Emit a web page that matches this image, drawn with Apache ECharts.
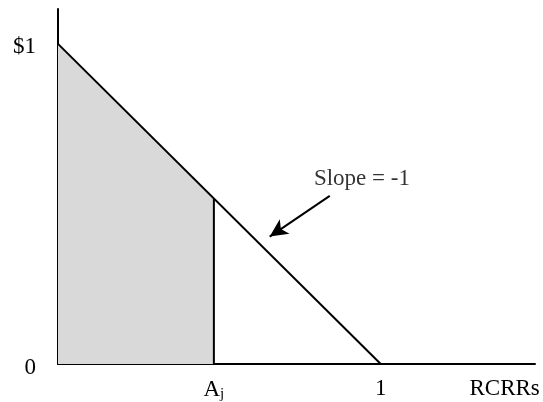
<!DOCTYPE html>
<html>
<head>
<meta charset="utf-8">
<script src="https://cdn.jsdelivr.net/npm/echarts@6.0.0/dist/echarts.min.js"></script>
<style>
    html, body { margin: 0; padding: 0; background: #fff; }
    #main { width: 543px; height: 402px; }
</style>
</head>
<body>
<div id="main"></div>
<script>
// budget line: $1 at 0, zero at 1
var linePoints = [[0, 1], [1, 0]];
var ajValue = 0.483;
var xTickValues = [0.483, 1, 1.384];
var xTickLabels = ['{a|A}{sub|j}', '1', 'RCRRs'];
var yTickValues = [0, 1];
var yTickLabels = ['0', '$1'];
// annotation
var slopeText = 'Slope = -1';
var slopeTextAt = [0.793, 0.578];
var arrowFrom = [0.842, 0.525];
var arrowTo = [0.656, 0.398];

var chart = (function () {
    var font = 'Liberation Serif';
    function init() {
        var myChart = echarts.init(document.getElementById('main'));
        var ajTop = 1 - ajValue;

        var option = {
            animation: false,
            grid: {
                left: 58,
                right: 8,
                top: 9,
                bottom: 36
            },
            xAxis: {
                type: 'value',
                min: 0,
                max: 1.478,
                splitLine: { show: false },
                axisTick: { show: false },
                axisLine: {
                    lineStyle: { color: '#000', width: 2 }
                },
                axisLabel: {
                    customValues: xTickValues,
                    margin: 13,
                    color: '#000',
                    fontFamily: font,
                    fontSize: 23,
                    formatter: function (v) {
                        var i = xTickValues.indexOf(v);
                        return i >= 0 ? xTickLabels[i] : '';
                    },
                    rich: {
                        a: { fontFamily: font, fontSize: 23, color: '#000' },
                        sub: { fontFamily: font, fontSize: 15, color: '#000', padding: [10, 0, 0, 0] }
                    }
                }
            },
            yAxis: {
                type: 'value',
                min: 0,
                max: 1.109,
                splitLine: { show: false },
                axisTick: { show: false },
                axisLine: {
                    onZero: false,
                    lineStyle: { color: '#000', width: 2 }
                },
                axisLabel: {
                    customValues: yTickValues,
                    margin: 22,
                    verticalAlign: 'top',
                    lineHeight: 7,
                    color: '#000',
                    fontFamily: font,
                    fontSize: 23,
                    formatter: function (v) {
                        var i = yTickValues.indexOf(v);
                        return i >= 0 ? yTickLabels[i] : '';
                    }
                }
            },
            series: [{
                // shaded area up to Aj
                type: 'line',
                data: [linePoints[0], [ajValue, ajTop]],
                symbol: 'none',
                lineStyle: { width: 0 },
                areaStyle: { color: '#d9d9d9', opacity: 1 },
                silent: true
            }, {
                type: 'line',
                data: linePoints,
                symbol: 'none',
                lineStyle: { color: '#000', width: 2 },
                silent: true
            }, {
                // vertical at Aj
                type: 'line',
                data: [[ajValue, 0], [ajValue, ajTop]],
                symbol: 'none',
                lineStyle: { color: '#000', width: 2 },
                silent: true,
                markLine: {
                    silent: true,
                    symbol: ['none', 'arrow'],
                    symbolSize: [13, 18],
                    label: { show: false },
                    lineStyle: { color: '#000', width: 2, type: 'solid' },
                    data: [[{ coord: arrowFrom }, { coord: arrowTo }]]
                }
            }, {
                type: 'scatter',
                data: [slopeTextAt],
                symbolSize: 0,
                silent: true,
                label: {
                    show: true,
                    position: 'right',
                    distance: 0,
                    formatter: slopeText,
                    color: '#000',
                    fontFamily: font,
                    fontSize: 23
                }
            }]
        };
        myChart.setOption(option);
    }
    return {
        init: init
    }
})()
chart.init();
</script>
</body>
</html>
